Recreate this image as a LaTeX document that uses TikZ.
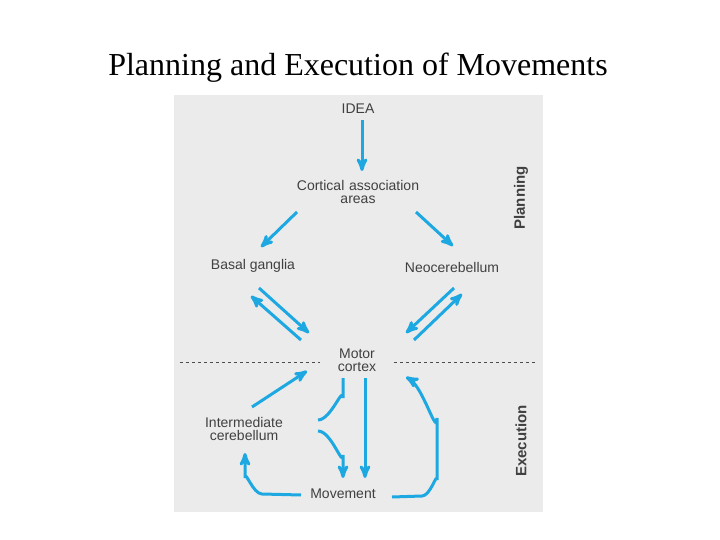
\documentclass[tikz,border=0pt]{standalone}
\usepackage{fontspec}
\setmainfont{Liberation Serif}
\setsansfont{Liberation Sans}
\usetikzlibrary{arrows}
\definecolor{flow}{RGB}{30,168,226}
\definecolor{panel}{RGB}{235,235,235}
\begin{document}
\begin{tikzpicture}[x=1pt,y=-1pt,>=stealth']
  \tikzstyle{lbl}=[font=\sffamily\fontsize{14}{15}\selectfont,text=black!75,align=center]
  \tikzstyle{side}=[font=\sffamily\bfseries\fontsize{15}{16}\selectfont,text=black!75,rotate=90]
  \tikzstyle{flowline}=[draw=flow,line width=3pt]

  \useasboundingbox (0,0) rectangle (720,540);
  \fill[panel] (174,95) rectangle (543,512);
  \node[font=\fontsize{32}{34}\selectfont] (title) at (358,68) {Planning and Execution of Movements};

  \node[lbl] (I) at (358,109) {IDEA};
  \node[lbl,text width=160pt] (C) at (358,192) {Cortical association\\[-2pt]areas};
  \node[lbl] (B) at (253,266) {Basal ganglia};
  \node[lbl] (N) at (452,267) {Neocerebellum};
  \node[lbl] (M) at (357,360) {Motor\\[-2pt]cortex};
  \node[lbl] (IC) at (244,429) {Intermediate\\[-2pt]cerebellum};
  \node[lbl] (V) at (343,494) {Movement};
  \node[side] (P) at (521,198) {Planning};
  \node[side] (E) at (521,441) {Execution};

  % ends of the connectors
  \coordinate (i0) at (362,120); \coordinate (c0) at (362,171);
  \coordinate (c1) at (297,212); \coordinate (b1) at (261,247);
  \coordinate (c2) at (416,212); \coordinate (n1) at (453,246);
  \coordinate (b2) at (259,288); \coordinate (m1) at (309,333);
  \coordinate (m2) at (301,340); \coordinate (b3) at (251,296);
  \coordinate (n2) at (454,288); \coordinate (m3) at (406,333);
  \coordinate (m4) at (414,340); \coordinate (n3) at (462,294);
  \coordinate (i1) at (252,407); \coordinate (m5) at (307,371);
  \coordinate (m6) at (343,378); \coordinate (i2) at (318,420);
  \coordinate (i3) at (318,431); \coordinate (v1) at (343,478);
  \coordinate (m7) at (365,378); \coordinate (v2) at (365,478);
  \coordinate (v3) at (301,495); \coordinate (i4) at (245,453);
  \coordinate (v4) at (392,497); \coordinate (m8) at (406,377);

  \draw[flowline,->] (i0) -- (c0);
  \draw[flowline,->] (c1) -- (b1);
  \draw[flowline,->] (c2) -- (n1);
  \draw[flowline,->] (b2) -- (m1);
  \draw[flowline,->] (m2) -- (b3);
  \draw[flowline,->] (n2) -- (m3);
  \draw[flowline,->] (m4) -- (n3);
  \draw[flowline,->] (i1) -- (m5);
  \draw[flowline,->] (m7) -- (v2);
  \draw[flowline] (m6) -- (343,398) to[out=90,in=0] (i2);
  \draw[flowline,->] (i3) to[out=0,in=-90] (343,455) -- (v1);
  \draw[flowline,->] (v3) -- (262,494) to[out=180,in=90] (245,478) -- (i4);
  \draw[flowline,->] (v4) -- (422,496) to[out=0,in=90] (437,480) -- (437,418) to[out=-90,in=-30] (m8);

  \draw[dashed,black!70,line width=1pt] (180,362) -- (320,362);
  \draw[dashed,black!70,line width=1pt] (394,362) -- (535,362);
\end{tikzpicture}
\end{document}
